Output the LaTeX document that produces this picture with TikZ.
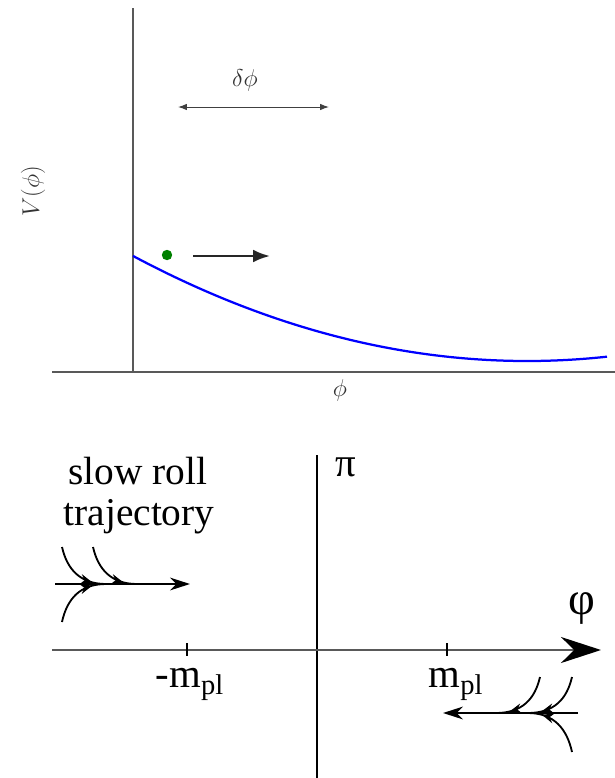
\documentclass[tikz,border=0pt]{standalone}
\usepackage{fontspec}
\setmainfont{Liberation Serif}
\usepackage{tikz}
\usetikzlibrary{
  arrows.meta,
  decorations.markings,
  positioning,
  calc
}
\tikzset{>=latex}
\tikzset{
  topaxis/.style={draw=black!65, line width=0.8pt},
  botaxis/.style={line width=2pt},
  toplabel/.style={text=black!80, font=\fontsize{16}{19}\selectfont},
  biglabel/.style={font=\fontsize{29}{30}\selectfont},
  trajline/.style={line width=1.3pt},
  traj/.style={line width=1.3pt, postaction={decorate},
    decoration={markings,
      mark=at position 0.78 with {\arrow{Stealth[length=3mm,width=2.6mm,inset=1mm]}}}},
}

\begin{document}
\begin{tikzpicture}[x=0.025cm, y=-0.025cm]
  \useasboundingbox (0,0) rectangle (615,778);
  % potential
  \coordinate (vtop) at (133,8);
  \coordinate (vbot) at (133,372);
  \coordinate (hleft) at (52,372);
  \coordinate (hright) at (615,372);
  \draw[topaxis] (vtop) -- (vbot);
  \draw[topaxis] (hleft) -- (hright);
  \node[toplabel, rotate=90] (Vlabel) at (33,191) {$V(\phi)$};
  \node[toplabel] (philabel) at (340,390) {$\phi$};
  \node[toplabel] (dlabel) at (245,80) {$\delta\phi$};
  \coordinate (dl) at (178,107);
  \coordinate (dr) at (329,107);
  \draw[black!75, line width=0.7pt, {Latex[length=2.2mm,width=1.6mm]}-{Latex[length=2.2mm,width=1.6mm]}] (dl) -- (dr);
  \draw[blue, line width=1.6pt, domain=133:607, samples=80, smooth]
    plot (\x, {361-(0.02601*(\x-527))^2});
  \node[circle, fill=green!50!black, inner sep=0pt, minimum size=0.26cm] (ball) at (167,255) {};
  \coordinate (rollend) at (270,256);
  \draw[black!85, line width=1.8pt, -{Latex[length=4.2mm,width=3.2mm]}] (193,256) -- (rollend);

  % phase space
  \coordinate (ptop) at (317,455);
  \coordinate (pbot) at (317,778);
  \coordinate (fleft) at (52,650);
  \coordinate (fright) at (601,650);
  \draw[line width=1.4pt] (ptop) -- (pbot);
  \draw[draw=black!65, botaxis, -{Stealth[length=1cm,width=0.65cm,inset=0.33cm,color=black]}] (fleft) -- (fright);
  \node[biglabel] (pilabel) at (346,467) {π};
  \node[biglabel, font=\fontsize{33}{36}\selectfont] (varphilabel) at (582,608) {φ};
  \foreach \t in {187,447}
    \draw[line width=0.8pt] (\t,643) -- (\t,656);
  \node[biglabel, anchor=base] (mneg) at (190,687) {-m\textsubscript{pl}};
  \node[biglabel, anchor=base] (mpos) at (456,687) {m\textsubscript{pl}};
  \node[biglabel, font=\fontsize{28}{30}\selectfont, anchor=base, inner sep=0pt] (slowroll) at (138,484) {slow roll};
  \node[biglabel, font=\fontsize{28}{30}\selectfont, anchor=base, inner sep=0pt] (trajtext) at (139,525) {trajectory};

  % left trajectory
  \coordinate (Ls) at (55,584);
  \coordinate (Le) at (190,584);
  \draw[trajline, -{Stealth[length=5mm,width=3.2mm,inset=1.6mm]}] (Ls) -- (Le);
  \draw[traj] (62,547) .. controls (67,569) and (80,584) .. (106,584);
  \draw[traj] (93,547) .. controls (98,569) and (111,584) .. (137,584);
  \draw[traj] (62,622) .. controls (67,599) and (80,584) .. (106,584);

  % right trajectory
  \coordinate (Rs) at (578,713);
  \coordinate (Re) at (443,713);
  \draw[trajline, -{Stealth[length=5mm,width=3.2mm,inset=1.6mm]}] (Rs) -- (Re);
  \draw[traj] (540,677) .. controls (535,699) and (522,713) .. (496,713);
  \draw[traj] (572,677) .. controls (567,699) and (554,713) .. (528,713);
  \draw[traj] (572,752) .. controls (567,729) and (554,713) .. (528,713);
\end{tikzpicture}
\end{document}
